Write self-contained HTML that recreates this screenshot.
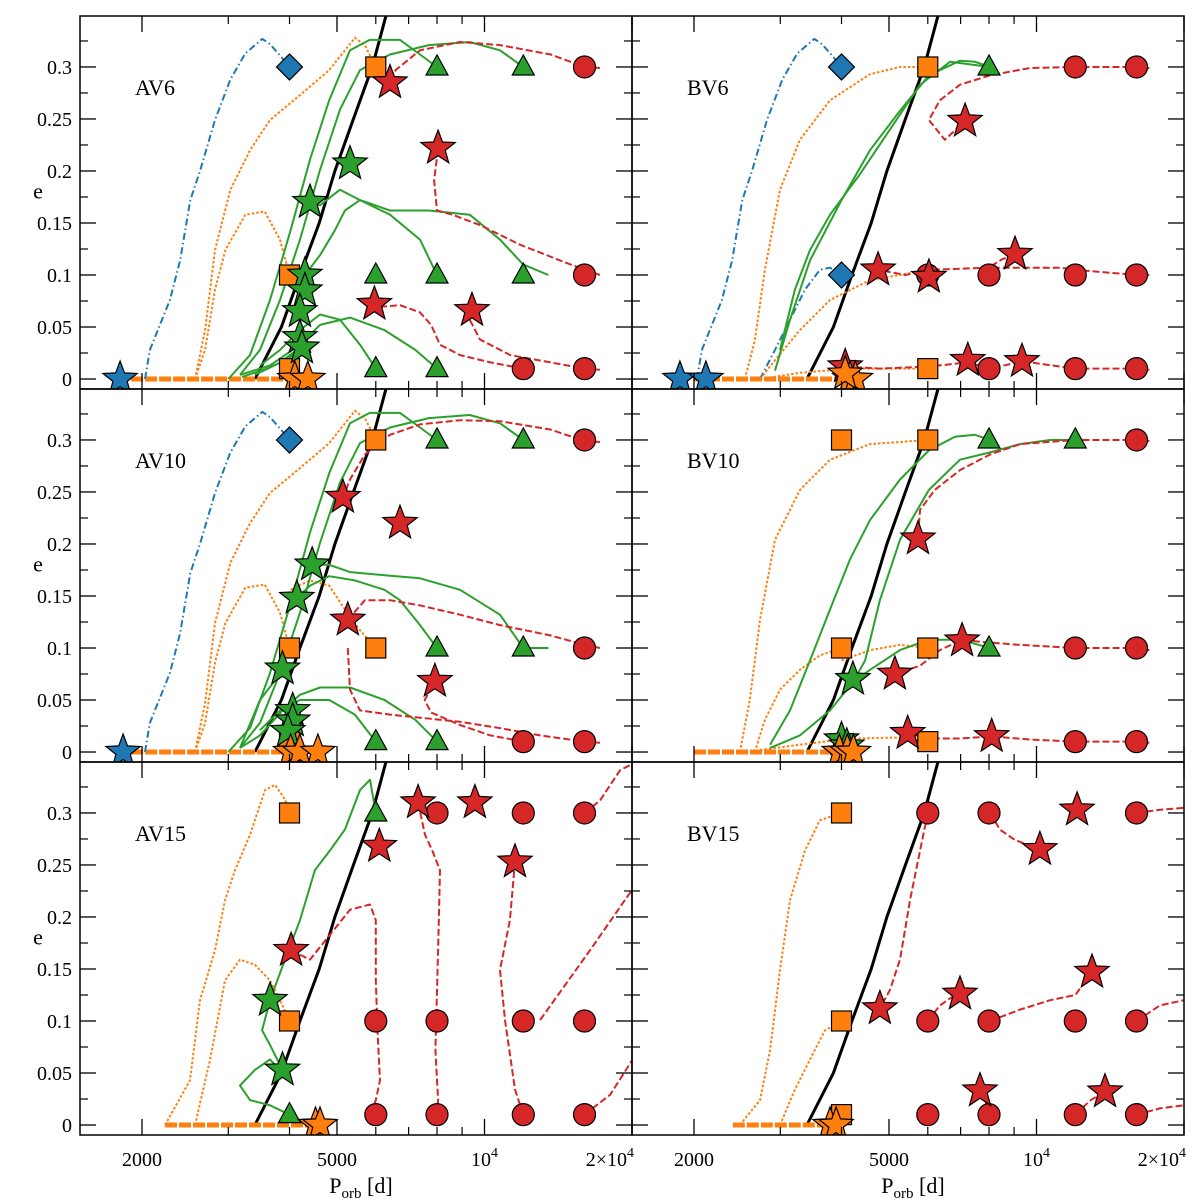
<!DOCTYPE html>
<html>
<head>
<meta charset="utf-8">
<style>
html,body{margin:0;padding:0;background:#fff;}
svg{display:block;font-family:"Liberation Serif","DejaVu Serif",serif;}
</style>
</head>
<body>
<svg id="fig" width="1200" height="1200" viewBox="0 0 1200 1200" xmlns="http://www.w3.org/2000/svg"></svg>
<script>
// ---------- data ----------
const panelNames = ["AV6","BV6","AV10","BV10","AV15","BV15"];
const xTickMajor = [2000, 5000, 10000, 20000];
const xTickLabels = ["2000", "5000", "10^4", "2×10^4"];
const xTickMinor = [3000, 4000, 6000, 7000, 8000, 9000];
const yTickMajor = [0, 0.05, 0.1, 0.15, 0.2, 0.25, 0.3];
const yTickLabels = ["0", "0.05", "0.1", "0.15", "0.2", "0.25", "0.3"];
const yTickMinor = [0.025, 0.075, 0.125, 0.175, 0.225, 0.275, 0.325];
const criticalLine = [[3400,0],[3850,0.05],[4200,0.1],[4600,0.15],[4950,0.2],[5400,0.25],[5900,0.3],[6300,0.35]];

const blueA = [[2028,0],[2076,0.028],[2280,0.076],[2392,0.114],[2510,0.172],[2627,0.2],[2818,0.249],[3030,0.288],[3250,0.313],[3520,0.327],[3650,0.322],[3826,0.311],[4000,0.3]];
const orangeA1 = [[2566,0],[2690,0.047],[2818,0.124],[3030,0.182],[3322,0.22],[3650,0.249],[4202,0.273],[4820,0.297],[5440,0.328],[5700,0.321],[6000,0.3]];
const orangeA2 = [[2566,0],[2690,0.028],[2818,0.086],[2960,0.124],[3250,0.158],[3560,0.161],[3826,0.134],[4000,0.1]];

const av6Curves = [
 ["o",[[1900,0],[4100,0]],"flat"],
 ["b",blueA],["o",orangeA1],["o",orangeA2],
 ["g",[[12000,0.3],[10757,0.316],[9330,0.324],[7700,0.321],[6414,0.312],[5572,0.297],[5071,0.259],[4617,0.201],[4202,0.134],[3826,0.076],[3482,0.028],[3170,0.004]]],
 ["g",[[8000,0.3],[7386,0.312],[6724,0.326],[5830,0.326],[5316,0.316],[4820,0.268],[4405,0.211],[4020,0.143],[3650,0.076],[3322,0.023],[3000,0]]],
 ["g",[[13500,0.1],[12000,0.11],[10757,0.134],[9330,0.158],[7700,0.162],[6414,0.162],[5572,0.172],[5071,0.182],[4617,0.167],[4405,0.17]]],
 ["g",[[8000,0.1],[7386,0.134],[6414,0.158],[5572,0.172],[5190,0.162],[4950,0.143],[4617,0.119],[4300,0.1]]],
 ["g",[[6000,0.01],[5572,0.033],[5071,0.057],[4617,0.062],[4202,0.047],[3826,0.028],[3482,0.013]]],
 ["g",[[8000,0.01],[7225,0.028],[6250,0.047],[5316,0.059],[4617,0.052],[4202,0.033],[3650,0.013],[3170,0.004]]],
 ["g",[[3200,0.002],[3600,0.01],[4000,0.02],[4200,0.03],[3800,0.015],[3400,0.004]]],
 ["r",[[17208,0.299],[16000,0.3],[13650,0.312],[10757,0.321],[8914,0.324],[7386,0.316],[6584,0.297],[6414,0.285]]],
 ["r",[[17208,0.1],[16000,0.105],[14259,0.114],[11830,0.129],[9793,0.148],[8600,0.158],[8000,0.162],[7890,0.191],[8040,0.222]]],
 ["r",[[12000,0.01],[10280,0.016],[8914,0.023],[8114,0.033],[7780,0.052],[7386,0.064],[6724,0.071],[5960,0.069]]],
 ["r",[[17208,0.009],[16000,0.01],[13650,0.016],[11290,0.023],[9793,0.038],[9330,0.057],[9430,0.066]]]
];
const av6Markers = [
 ["d",4000,0.3],["s",6000,0.3],["s",4000,0.1],["s",4000,0.01],
 ["t",8000,0.3],["t",12000,0.3],["t",6000,0.1],["t",8000,0.1],["t",12000,0.1],["t",6000,0.01],["t",8000,0.01],
 ["c",16000,0.3],["c",16000,0.1],["c",12000,0.01],["c",16000,0.01],
 ["*b",1804,0],
 ["*r",6414,0.285],["*r",8040,0.222],["*r",5960,0.072],["*r",9430,0.066],
 ["*g",5316,0.207],["*g",4405,0.17],["*g",4300,0.1],["*g",4300,0.085],["*g",4200,0.065],["*g",4200,0.04],["*g",4240,0.03],
 ["*o",4100,0],["*o",4360,0]
];

const av10Curves = [
 ["o",[[1900,0],[4100,0]],"flat"],
 ["b",blueA],["o",orangeA1],["o",orangeA2],
 ["o",[[4020,0.156],[4405,0.165],[4820,0.16],[5190,0.137],[5572,0.117],[6000,0.1]]],
 ["g",[[12000,0.3],[10757,0.316],[9330,0.324],[7700,0.321],[6414,0.312],[5572,0.297],[5071,0.259],[4617,0.201],[4202,0.134],[3826,0.076],[3482,0.028],[3170,0.004]]],
 ["g",[[8000,0.3],[7386,0.312],[6724,0.326],[5830,0.326],[5316,0.316],[4820,0.268],[4405,0.211],[4020,0.143],[3650,0.076],[3322,0.023],[3000,0]]],
 ["g",[[13500,0.1],[12000,0.1],[10757,0.132],[8914,0.156],[7386,0.167],[6250,0.17],[5316,0.173],[4820,0.18],[4450,0.18]]],
 ["g",[[8000,0.1],[7386,0.122],[6724,0.146],[6250,0.156],[5440,0.165],[4820,0.169],[4405,0.16],[4140,0.148]]],
 ["g",[[6000,0.01],[5440,0.036],[4820,0.05],[4202,0.05],[3826,0.04],[3482,0.021]]],
 ["g",[[8000,0.01],[7225,0.031],[6250,0.05],[5316,0.062],[4617,0.062],[4202,0.055],[3870,0.04],[3482,0.016],[3170,0.004]]],
 ["g",[[3170,0.004],[3482,0.05],[3740,0.069],[3870,0.081]]],
 ["r",[[17208,0.298],[16000,0.299],[13650,0.31],[10757,0.318],[8914,0.319],[7386,0.315],[6414,0.305],[5700,0.286],[5316,0.262],[5140,0.245]]],
 ["r",[[17208,0.1],[16000,0.103],[13650,0.112],[10757,0.122],[8914,0.132],[7386,0.141],[6414,0.146],[5700,0.146],[5260,0.127]]],
 ["r",[[12000,0.01],[10280,0.016],[8914,0.026],[7780,0.038],[7550,0.05],[7920,0.068]]],
 ["r",[[17208,0.009],[16000,0.01],[12984,0.016],[10757,0.023],[8914,0.029],[7386,0.033],[6414,0.036],[5572,0.04],[5316,0.06],[5260,0.1]]]
];
const av10Markers = [
 ["d",4000,0.3],["s",6000,0.3],["s",4000,0.1],["s",6000,0.1],["s",4000,0.01],
 ["t",8000,0.3],["t",12000,0.3],["t",8000,0.1],["t",12000,0.1],["t",6000,0.01],["t",8000,0.01],
 ["c",16000,0.3],["c",16000,0.1],["c",12000,0.01],["c",16000,0.01],
 ["*b",1830,0],
 ["*r",5140,0.245],["*r",6724,0.22],["*r",5260,0.127],["*r",7920,0.068],
 ["*g",4450,0.18],["*g",4140,0.148],["*g",3870,0.08],["*g",4060,0.04],["*g",4060,0.03],["*g",3970,0.02],
 ["*o",4020,0],["*o",4200,0],["*o",4570,0]
];

const av15Curves = [
 ["o",[[2228,0],[4500,0]],"flat"],
 ["o",[[2228,0],[2506,0.043],[2627,0.12],[2818,0.168],[2954,0.216],[3096,0.245],[3322,0.279],[3565,0.322],[3737,0.327],[3916,0.313],[4000,0.3]]],
 ["o",[[2566,0],[2754,0.063],[2954,0.139],[3170,0.159],[3400,0.154],[3650,0.139],[3826,0.12],[4000,0.1]]],
 ["g",[[6000,0.3],[5840,0.332],[5572,0.322],[5190,0.284],[4838,0.264],[4508,0.245],[4202,0.197],[3916,0.159],[3650,0.12],[3516,0.091],[3650,0.077],[3870,0.053]]],
 ["g",[[4000,0.01],[3650,0.019],[3322,0.024],[3170,0.038],[3400,0.053],[3650,0.063],[3826,0.053]]],
 ["r",[[4030,0.168],[4405,0.159],[4838,0.183],[5316,0.207],[5840,0.212],[6000,0.197],[6000,0.139],[6060,0.082],[6120,0.043],[6000,0.024],[5840,0.01]]],
 ["r",[[7320,0.31],[7560,0.279],[7820,0.264],[8114,0.245],[8040,0.168],[7940,0.072],[8040,0.024],[8000,0.01]]],
 ["r",[[12000,0.01],[11540,0.034],[11010,0.101],[10757,0.149],[11270,0.197],[11540,0.253]]],
 ["r",[[16000,0.3],[17208,0.312],[18904,0.341],[20000,0.347]]],
 ["r",[[12984,0.101],[16420,0.168],[20000,0.226]]],
 ["r",[[16000,0.01],[18040,0.029],[20000,0.062]]]
];
const av15Markers = [
 ["s",4000,0.3],["s",4000,0.1],
 ["t",6000,0.3],["t",4000,0.01],
 ["c",8000,0.3],["c",12000,0.3],["c",16000,0.3],["c",6000,0.1],["c",8000,0.1],["c",12000,0.1],["c",16000,0.1],
 ["c",6000,0.01],["c",8000,0.01],["c",12000,0.01],["c",16000,0.01],
 ["*r",7320,0.31],["*r",9560,0.31],["*r",6100,0.268],["*r",11540,0.253],["*r",4030,0.168],
 ["*g",3650,0.12],["*g",3870,0.053],
 ["*o",4520,0],["*o",4617,0]
];

const bv6Curves = [
 ["o",[[2000,0],[4300,0]],"flat"],
 ["b",blueA],
 ["b",[[2727,0],[2927,0.028],[3140,0.057],[3370,0.086],[3614,0.105],[3790,0.107],[4000,0.1]]],
 ["o",[[2541,0],[2662,0.037],[2791,0.105],[2996,0.182],[3290,0.23],[3790,0.268],[4574,0.293],[5265,0.3],[6000,0.3]]],
 ["o",[[2727,0],[2927,0.018],[3290,0.047],[3790,0.076],[4574,0.095],[6030,0.105]]],
 ["o",[[2727,0],[3290,0.006],[4160,0.01],[6000,0.01]]],
 ["g",[[8040,0.3],[7490,0.305],[6980,0.306],[6030,0.292],[5265,0.258],[4574,0.22],[4000,0.172],[3450,0.114],[3140,0.057],[2927,0.008]]],
 ["g",[[8040,0.3],[6660,0.305],[5786,0.283],[5024,0.24],[4364,0.197],[3790,0.158],[3450,0.124],[3214,0.086],[2996,0.028]]],
 ["r",[[17000,0.299],[16000,0.3],[12000,0.3],[9700,0.299],[8040,0.292],[6980,0.283],[6350,0.268],[6030,0.249],[6500,0.23],[7150,0.248]]],
 ["r",[[17000,0.1],[16000,0.1],[12000,0.105],[11200,0.107],[8040,0.107],[6030,0.105],[5400,0.1],[4750,0.105]]],
 ["r",[[9040,0.12],[8500,0.115],[8040,0.108]]],
 ["r",[[17000,0.009],[16000,0.01],[12000,0.01],[9340,0.017],[8040,0.01],[7240,0.016],[6030,0.012],[4790,0.01],[4070,0.012]]]
];
const bv6Markers = [
 ["d",4000,0.3],["d",4000,0.1],["s",6000,0.3],["s",6000,0.01],
 ["t",8000,0.3],
 ["c",12000,0.3],["c",16000,0.3],["c",6000,0.1],["c",8000,0.1],["c",12000,0.1],["c",16000,0.1],
 ["c",8000,0.01],["c",12000,0.01],["c",16000,0.01],
 ["*b",1872,0],["*b",2115,0],
 ["*r",7150,0.248],["*r",4750,0.105],["*r",6030,0.098],["*r",9040,0.12],["*r",4070,0.012],["*r",7240,0.018],["*r",9340,0.017],
 ["*o",4160,0],["*o",4270,0],["*o",4070,0.005]
];

const bv10Curves = [
 ["o",[[2000,0],[4300,0]],"flat"],
 ["o",[[2482,0],[2600,0.05],[2727,0.127],[2927,0.204],[3290,0.252],[3790,0.281],[4574,0.296],[6000,0.3]]],
 ["o",[[2662,0],[2791,0.031],[2996,0.06],[3290,0.079],[3614,0.093],[4000,0.1]]],
 ["o",[[4000,0.088],[4574,0.098],[5265,0.103],[6000,0.1]]],
 ["o",[[2727,0.002],[3290,0.007],[4160,0.013],[5265,0.014],[6000,0.01]]],
 ["g",[[8040,0.3],[7490,0.305],[6820,0.303],[6030,0.29],[5265,0.262],[4574,0.223],[4160,0.185],[3790,0.137],[3450,0.088],[3140,0.04],[2860,0.007]]],
 ["g",[[12000,0.3],[10660,0.3],[9260,0.296],[8040,0.288],[6980,0.281],[6030,0.252],[5265,0.204],[4790,0.146],[4470,0.088],[4220,0.067]]],
 ["g",[[8040,0.1],[6980,0.108],[6030,0.108],[5265,0.098],[4574,0.079],[4220,0.067],[3790,0.04],[3290,0.016],[2860,0.004]]],
 ["r",[[17000,0.299],[16000,0.3],[12000,0.3],[9260,0.296],[8040,0.286],[6980,0.271],[6200,0.252],[5786,0.233],[5730,0.209]]],
 ["r",[[17000,0.098],[16000,0.1],[12000,0.1],[9260,0.103],[7670,0.106],[7050,0.108],[6350,0.098],[5786,0.083],[5140,0.075]]],
 ["r",[[17000,0.009],[16000,0.01],[12000,0.01],[9700,0.012],[8100,0.015],[6980,0.013],[6030,0.013],[5460,0.018]]]
];
const bv10Markers = [
 ["s",4000,0.3],["s",6000,0.3],["s",4000,0.1],["s",6000,0.1],["s",6000,0.01],
 ["t",8000,0.3],["t",12000,0.3],["t",8000,0.1],
 ["c",16000,0.3],["c",12000,0.1],["c",16000,0.1],["c",12000,0.01],["c",16000,0.01],
 ["*r",5730,0.205],["*r",7050,0.107],["*r",5140,0.075],["*r",5460,0.018],["*r",8100,0.015],
 ["*g",4220,0.07],["*g",4000,0.012],["*g",4100,0.006],
 ["*o",3960,0],["*o",4110,0],["*o",4230,0]
];

const bv15Curves = [
 ["o",[[2400,0],[4000,0]],"flat"],
 ["o",[[2482,0],[2727,0.024],[2860,0.072],[2996,0.149],[3140,0.216],[3370,0.264],[3614,0.293],[4000,0.3]]],
 ["o",[[2996,0],[3214,0.034],[3450,0.063],[3700,0.091],[4000,0.1]]],
 ["r",[[6000,0.3],[5786,0.264],[5520,0.216],[5265,0.159],[5024,0.13],[4790,0.112]]],
 ["r",[[8040,0.3],[8420,0.284],[9040,0.274],[10160,0.265]]],
 ["r",[[16000,0.3],[17860,0.303],[20000,0.305]]],
 ["r",[[6000,0.1],[6350,0.115],[6820,0.125],[6980,0.126]]],
 ["r",[[8040,0.1],[9260,0.111],[10660,0.12],[12000,0.125],[12980,0.147]]],
 ["r",[[16000,0.1],[17860,0.115],[20000,0.12]]],
 ["r",[[8040,0.01],[7850,0.024],[7670,0.033]]],
 ["r",[[12000,0.01],[12900,0.024],[13800,0.032]]],
 ["r",[[16000,0.01],[17860,0.016],[20000,0.019]]]
];
const bv15Markers = [
 ["s",4000,0.3],["s",4000,0.1],["s",4000,0.01],
 ["c",6000,0.3],["c",8000,0.3],["c",16000,0.3],["c",6000,0.1],["c",8000,0.1],["c",12000,0.1],["c",16000,0.1],
 ["c",6000,0.01],["c",8000,0.01],["c",12000,0.01],["c",16000,0.01],
 ["*r",12100,0.303],["*r",10160,0.265],["*r",12980,0.147],["*r",6980,0.126],["*r",4790,0.112],["*r",7670,0.033],["*r",13800,0.032],
 ["*o",3790,0],["*o",3900,0]
];

const panelCurves = [av6Curves, bv6Curves, av10Curves, bv10Curves, av15Curves, bv15Curves];
const panelMarkers = [av6Markers, bv6Markers, av10Markers, bv10Markers, av15Markers, bv15Markers];

// ---------- rendering ----------
const NS = "http://www.w3.org/2000/svg";
const svg = document.getElementById("fig");
const COLORS = {b:"#1f77b4", o:"#ff7f0e", g:"#2ca02c", r:"#d62728"};
const DASH = {b:"7,3,1.5,3", o:"2.5,2", g:"", r:"7,3"};
const PW = 552, PH = 373, TOP = 16, LEFT = 80;
const E_MIN = -0.0096, E_MAX = 0.349;

function el(tag, attrs, parent){
  const e = document.createElementNS(NS, tag);
  for (const k in attrs) e.setAttribute(k, attrs[k]);
  (parent || svg).appendChild(e);
  return e;
}
function xScale(col){ const x0 = LEFT + col*PW; return P => x0 + 62 + 490*Math.log10(P/2000); }
function yScale(row){ const y0 = TOP + row*PH; return e => y0 + PH*(E_MAX - e)/(E_MAX - E_MIN); }

function starPts(cx, cy, R){
  const pts = [];
  for (let i = 0; i < 10; i++){
    const r = i % 2 ? R*0.42 : R;
    const a = -Math.PI/2 + i*Math.PI/5;
    pts.push((cx + r*Math.cos(a)).toFixed(1) + "," + (cy + r*Math.sin(a)).toFixed(1));
  }
  return pts.join(" ");
}

for (let p = 0; p < 6; p++){
  const col = p % 2, row = Math.floor(p/2);
  const X = xScale(col), Y = yScale(row);
  const x0 = LEFT + col*PW, y0 = TOP + row*PH;
  const g = el("g", {});
  
  
  const clipId = "clip" + p;
  const cp = el("clipPath", {id: clipId}, g);
  el("rect", {x: x0, y: y0, width: PW, height: PH}, cp);
  const plot = el("g", {"clip-path": "url(#" + clipId + ")"}, g);

  const bl = el("polyline", {points: criticalLine.map(d => X(d[0]).toFixed(1) + "," + Y(d[1]).toFixed(1)).join(" "), fill: "none", stroke: "#000", "stroke-width": 3}, plot);
  
  

  panelCurves[p].forEach((c, i) => {
    const flat = c[2] === "flat";
    const pl = el("polyline", {
      points: c[1].map(d => X(d[0]).toFixed(1) + "," + Y(d[1]).toFixed(1)).join(" "),
      fill: "none", stroke: COLORS[c[0]], "stroke-width": flat ? 5 : 2,
      "stroke-dasharray": flat ? "12,2" : DASH[c[0]], "stroke-linejoin": "round"
    }, plot);
    
    
  });

  panelMarkers[p].forEach((m, i) => {
    const cx = X(m[1]), cy = Y(m[2]);
    let mk;
    if (m[0] === "c") mk = el("circle", {cx: cx, cy: cy, r: 11, fill: COLORS.r, stroke: "#000", "stroke-width": 1.2}, plot);
    else if (m[0] === "s") mk = el("rect", {x: cx-10, y: cy-10, width: 20, height: 20, fill: COLORS.o, stroke: "#000", "stroke-width": 1.2}, plot);
    else if (m[0] === "t") mk = el("polygon", {points: `${cx},${cy-12} ${cx+11},${cy+8} ${cx-11},${cy+8}`, fill: COLORS.g, stroke: "#000", "stroke-width": 1.2}, plot);
    else if (m[0] === "d") mk = el("polygon", {points: `${cx},${cy-13} ${cx+13},${cy} ${cx},${cy+13} ${cx-13},${cy}`, fill: COLORS.b, stroke: "#000", "stroke-width": 1.2}, plot);
    else mk = el("polygon", {points: starPts(cx, cy, 18), fill: COLORS[m[0][1]], stroke: "#000", "stroke-width": 1.2}, plot);
    
    
  });

  const fr = el("rect", {x: x0, y: y0, width: PW, height: PH, fill: "none", stroke: "#000", "stroke-width": 1.5}, g);
  
  

  yTickMajor.forEach((v, i) => {
    const y = Y(v);
    el("line", {x1: x0, x2: x0+16, y1: y, y2: y, stroke: "#000", "stroke-width": 1.3}, g);
    el("line", {x1: x0+PW, x2: x0+PW-16, y1: y, y2: y, stroke: "#000", "stroke-width": 1.3}, g);
    if (col === 0){
      const t = el("text", {x: x0-8, y: y+7, "text-anchor": "end", "font-size": 20}, g);
      t.textContent = yTickLabels[i];
      
      
    }
  });
  yTickMinor.forEach(v => {
    const y = Y(v);
    el("line", {x1: x0, x2: x0+8, y1: y, y2: y, stroke: "#000", "stroke-width": 1.2}, g);
    el("line", {x1: x0+PW, x2: x0+PW-8, y1: y, y2: y, stroke: "#000", "stroke-width": 1.2}, g);
  });
  xTickMajor.forEach((v, i) => {
    const x = X(v);
    el("line", {x1: x, x2: x, y1: y0, y2: y0+16, stroke: "#000", "stroke-width": 1.3}, g);
    el("line", {x1: x, x2: x, y1: y0+PH, y2: y0+PH-16, stroke: "#000", "stroke-width": 1.3}, g);
    if (row === 2){
      const last = i === xTickMajor.length - 1;
      const t = el("text", {x: last ? x + 2 : x, y: y0+PH+31, "text-anchor": last ? "end" : "middle", "font-size": 20}, g);
      
      
      const lab = xTickLabels[i];
      if (lab.indexOf("^") >= 0){
        const parts = lab.split("^");
        const s1 = el("tspan", {}, t); s1.textContent = parts[0];
        const s2 = el("tspan", {dy: -9, "font-size": 14}, t); s2.textContent = parts[1];
      } else t.textContent = lab;
    }
  });
  xTickMinor.forEach(v => {
    const x = X(v);
    el("line", {x1: x, x2: x, y1: y0, y2: y0+8, stroke: "#000", "stroke-width": 1.2}, g);
    el("line", {x1: x, x2: x, y1: y0+PH, y2: y0+PH-8, stroke: "#000", "stroke-width": 1.2}, g);
  });

  const pl = el("text", {x: x0+55, y: y0+79, "font-size": 22}, g);
  pl.textContent = panelNames[p];
  
  

  if (col === 0){
    const yt = el("text", {x: 38, y: y0 + PH/2 - 4, "text-anchor": "middle", "font-size": 22}, g);
    yt.textContent = "e";
    
    
  }
  if (row === 2){
    const xt = el("text", {x: x0 + PW/2 + 5, y: y0+PH+58, "text-anchor": "middle", "font-size": 22}, g);
    
    
    const a = el("tspan", {}, xt); a.textContent = "P";
    const b = el("tspan", {dy: 5, "font-size": 15}, xt); b.textContent = "orb";
    const c = el("tspan", {dy: -5}, xt); c.textContent = " [d]";
  }
}
</script>
</body>
</html>
